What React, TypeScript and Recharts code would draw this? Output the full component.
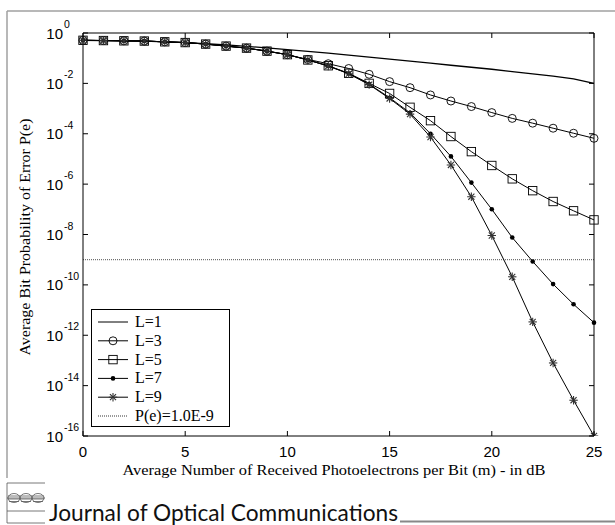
import { LineChart, Line, XAxis, YAxis, Legend } from "recharts";

// received photoelectrons per bit, dB
const mDb = [0, 1, 2, 3, 4, 5, 6, 7, 8, 9, 10, 11, 12, 13, 14, 15, 16, 17, 18, 19, 20, 21, 22, 23, 24, 25];

// log10 of P(e)
const logL1 = [-0.29, -0.3, -0.31, -0.32, -0.35, -0.38, -0.42, -0.47, -0.53, -0.59, -0.66, -0.73, -0.8, -0.88, -0.96, -1.04, -1.12, -1.2, -1.28, -1.36, -1.44, -1.53, -1.62, -1.71, -1.82, -2.0];
const logL3 = [-0.29, -0.3, -0.31, -0.32, -0.35, -0.38, -0.44, -0.52, -0.6, -0.72, -0.86, -1.05, -1.22, -1.41, -1.64, -1.93, -2.17, -2.46, -2.7, -2.92, -3.16, -3.39, -3.58, -3.78, -3.98, -4.18];
const logL5 = [-0.29, -0.3, -0.31, -0.32, -0.35, -0.38, -0.44, -0.52, -0.6, -0.72, -0.86, -1.07, -1.3, -1.6, -2.0, -2.4, -2.95, -3.48, -4.11, -4.71, -5.26, -5.79, -6.26, -6.69, -7.06, -7.42];
const logL7 = [-0.29, -0.3, -0.31, -0.32, -0.35, -0.38, -0.44, -0.52, -0.6, -0.72, -0.86, -1.07, -1.31, -1.61, -2.03, -2.57, -3.17, -4.0, -4.9, -5.94, -7.0, -8.12, -9.07, -9.97, -10.77, -11.5];
const logL9 = [-0.29, -0.3, -0.31, -0.32, -0.35, -0.38, -0.44, -0.52, -0.6, -0.72, -0.86, -1.07, -1.31, -1.62, -2.05, -2.6, -3.22, -4.13, -5.24, -6.5, -8.04, -9.68, -11.47, -13.1, -14.58, -16.0];

// target error rate line
const threshold = 1e-9;
const xTicks = [0, 5, 10, 15, 20, 25];
const yTickExps = [0, -2, -4, -6, -8, -10, -12, -14, -16];

const legendLabels = ["L=1", "L=3", "L=5", "L=7", "L=9", "P(e)=1.0E-9"];
const legendShapes = ["none", "circle", "square", "dot", "star", "dotted"];

const data = mDb.map((m, i) => ({
  m,
  L1: Math.pow(10, logL1[i]),
  L3: Math.pow(10, logL3[i]),
  L5: Math.pow(10, logL5[i]),
  L7: Math.pow(10, logL7[i]),
  L9: Math.pow(10, logL9[i]),
  P: threshold,
}));

const yTicks = yTickExps.map((e) => Math.pow(10, e));

const SANS = "'Liberation Sans', Arial, sans-serif";
const SERIF = "'Liberation Serif', 'Times New Roman', serif";

function Marker({ shape, cx, cy }: { shape: string; cx: number; cy: number }) {
  if (cx == null || cy == null) return <g />;
  if (shape === "circle")
    return <circle cx={cx} cy={cy} r={4} fill="none" stroke="#000" strokeWidth={0.9} />;
  if (shape === "square")
    return <rect x={cx - 4.2} y={cy - 4.2} width={8.4} height={8.4} fill="none" stroke="#000" strokeWidth={0.9} />;
  if (shape === "dot") return <circle cx={cx} cy={cy} r={2.3} fill="#000" />;
  if (shape === "star") {
    const r = 4.2;
    const d = r * 0.72;
    return (
      <g stroke="#333" strokeWidth={1.1}>
        <line x1={cx - r} y1={cy} x2={cx + r} y2={cy} />
        <line x1={cx} y1={cy - r} x2={cx} y2={cy + r} />
        <line x1={cx - d} y1={cy - d} x2={cx + d} y2={cy + d} />
        <line x1={cx - d} y1={cy + d} x2={cx + d} y2={cy - d} />
      </g>
    );
  }
  return <g />;
}

const dotFor = (shape: string) => (p: any) => <Marker key={`${shape}-${p.index}`} shape={shape} cx={p.cx} cy={p.cy} />;

function BottomTick({ x, y, payload }: any) {
  return (
    <g>
      <line x1={x} y1={y - 10} x2={x} y2={y - 15} stroke="#000" />
      <text x={x} y={y} dy="0.76em" textAnchor="middle" fontFamily={SANS} fontSize={15} fill="#000">
        {payload.value}
      </text>
    </g>
  );
}

function TopTick({ x, y }: any) {
  return <line x1={x} y1={y} x2={x} y2={y + 5} stroke="#000" />;
}

function LeftTick({ x, y, payload }: any) {
  const exp = Math.round(Math.log10(payload.value));
  return (
    <g>
      <line x1={x + 20} y1={y} x2={x + 25} y2={y} stroke="#000" />
      <text x={x} y={y + 5.5} textAnchor="end" fontFamily={SANS} fontSize={15} fill="#000">
        10
      </text>
      <text x={x + 1} y={y - 5} textAnchor="start" fontFamily={SANS} fontSize={10.5} fill="#000">
        {exp === 0 ? "0" : `-${Math.abs(exp)}`}
      </text>
    </g>
  );
}

function RightTick({ x, y }: any) {
  return <line x1={x} y1={y} x2={x - 5} y2={y} stroke="#000" />;
}

function LegendBox() {
  return (
    <div style={{ width: 139, height: 118, border: "1px solid #000", boxSizing: "border-box", background: "#fff" }}>
      <svg width={137} height={116}>
        {legendLabels.map((label, i) => {
          const cy = 12 + i * 18.8;
          const shape = legendShapes[i];
          return (
            <g key={label}>
              <line
                x1={6}
                y1={cy}
                x2={36}
                y2={cy}
                stroke="#000"
                strokeWidth={shape === "dotted" ? 0.8 : 1}
                strokeDasharray={shape === "dotted" ? "1 1" : undefined}
              />
              <Marker shape={shape} cx={21} cy={cy} />
              <text x={43} y={cy + 5} fontFamily={SERIF} fontSize={16} fill="#000">
                {label}
              </text>
            </g>
          );
        })}
      </svg>
    </div>
  );
}

export default function App() {
  return (
    <div style={{ position: "absolute", left: 0, top: 0, width: 615, height: 525, background: "#fff" }}>
      <LineChart width={615} height={525} data={data} margin={{ top: 32, right: 20, bottom: 59, left: 23 }}>
        <XAxis
          dataKey="m"
          type="number"
          domain={[0, 25]}
          ticks={xTicks}
          interval={0}
          height={30}
          tickSize={0}
          tickMargin={10}
          axisLine={{ stroke: "#000" }}
          tickLine={false}
          tick={BottomTick}
        />
        <XAxis
          xAxisId="top"
          dataKey="m"
          orientation="top"
          type="number"
          domain={[0, 25]}
          ticks={xTicks}
          interval={0}
          height={1}
          tickSize={0}
          tickMargin={0}
          axisLine={{ stroke: "#000" }}
          tickLine={false}
          tick={TopTick}
        />
        <YAxis
          scale="log"
          type="number"
          domain={[1e-16, 1]}
          allowDataOverflow
          ticks={yTicks}
          interval={0}
          width={60}
          tickSize={0}
          tickMargin={20}
          axisLine={{ stroke: "#000" }}
          tickLine={false}
          tick={LeftTick}
        />
        <YAxis
          yAxisId="right"
          orientation="right"
          scale="log"
          type="number"
          domain={[1e-16, 1]}
          allowDataOverflow
          ticks={yTicks}
          interval={0}
          width={1}
          tickSize={0}
          tickMargin={0}
          axisLine={{ stroke: "#000" }}
          tickLine={false}
          tick={RightTick}
        />
        <Line
          dataKey="P"
          xAxisId="top"
          yAxisId="right"
          stroke="#222"
          strokeWidth={0.8}
          strokeDasharray="1 1"
          dot={false}
          isAnimationActive={false}
        />
        <Line dataKey="L1" stroke="#000" strokeWidth={1.3} dot={false} isAnimationActive={false} />
        <Line dataKey="L3" stroke="#000" strokeWidth={1} dot={dotFor("circle")} isAnimationActive={false} />
        <Line dataKey="L5" stroke="#000" strokeWidth={1} dot={dotFor("square")} isAnimationActive={false} />
        <Line dataKey="L7" stroke="#000" strokeWidth={1} dot={dotFor("dot")} isAnimationActive={false} />
        <Line dataKey="L9" stroke="#000" strokeWidth={1} dot={dotFor("star")} isAnimationActive={false} />
        <Legend
          layout="vertical"
          align="center"
          verticalAlign="middle"
          content={() => <LegendBox />}
          wrapperStyle={{ left: 91, top: 309, width: 139, height: 118 }}
        />
      </LineChart>
      <svg
        width={615}
        height={525}
        style={{ position: "absolute", left: 0, top: 0, pointerEvents: "none" }}
      >
        <line x1={7} y1={11} x2={615} y2={11} stroke="#a0a0a0" strokeWidth={1.5} />
        <line x1={7} y1={11} x2={7} y2={478} stroke="#a0a0a0" strokeWidth={1.5} />
        <text
          x={27}
          y={237}
          transform="rotate(-90 27 237)"
          textAnchor="middle"
          dominantBaseline="middle"
          fontFamily={SERIF}
          fontSize={15}
          textLength={237}
          lengthAdjust="spacingAndGlyphs"
          fill="#000"
        >
          Average Bit Probability of Error P(e)
        </text>
        <text
          x={334}
          y={475}
          textAnchor="middle"
          fontFamily={SERIF}
          fontSize={15}
          textLength={423}
          lengthAdjust="spacingAndGlyphs"
          fill="#000"
        >
          Average Number of Received Photoelectrons per Bit (m) - in dB
        </text>
        <g stroke="#555" fill="none" strokeWidth={0.8}>
          <line x1={7} y1={483} x2={45} y2={483} />
          <line x1={7} y1={483} x2={7} y2={523} />
          <line x1={7} y1={511} x2={45} y2={511} />
          <line x1={7} y1={523} x2={45} y2={523} />
          {[14, 26, 38].map((cx) => (
            <g key={cx}>
              <ellipse cx={cx} cy={498} rx={6} ry={4.5} />
              <line x1={cx - 6} y1={496} x2={cx + 6} y2={496} />
              <line x1={cx - 6} y1={499} x2={cx + 6} y2={499} />
              <line x1={cx - 5} y1={501.5} x2={cx + 5} y2={501.5} />
            </g>
          ))}
          <line x1={7} y1={498} x2={45} y2={498} />
        </g>
        <text
          x={49}
          y={521}
          fontFamily="Lato, 'Open Sans', sans-serif"
          fontSize={23}
          textLength={349}
          lengthAdjust="spacingAndGlyphs"
          fill="#111"
        >
          Journal of Optical Communications
        </text>
        <line x1={400} y1={521.5} x2={615} y2={521.5} stroke="#888" strokeWidth={2} />
      </svg>
    </div>
  );
}
